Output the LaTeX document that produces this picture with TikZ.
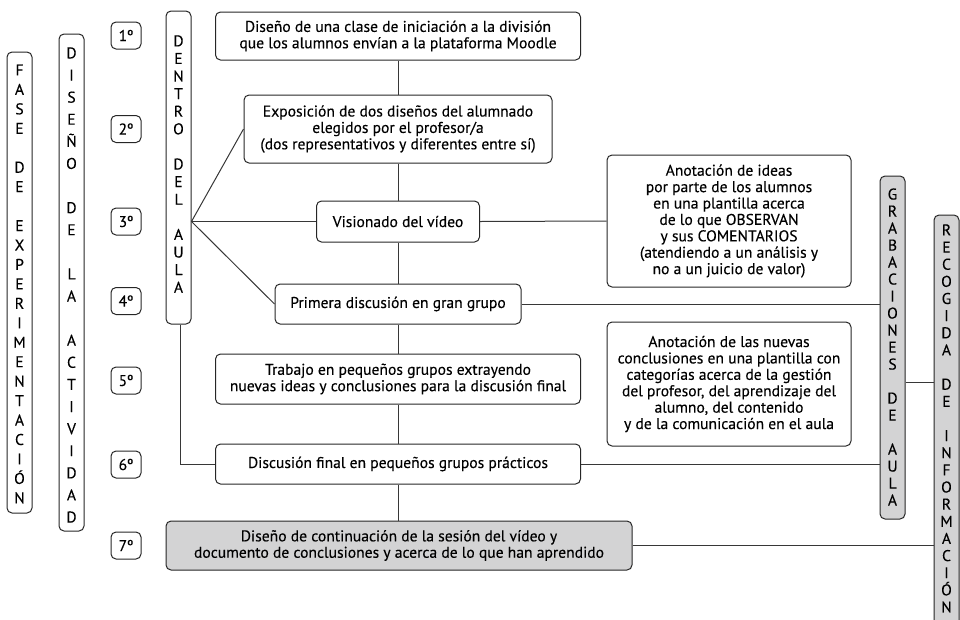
\documentclass[tikz,border=0pt]{standalone}
\usepackage{fontspec}
\setmainfont{PT Sans}[BoldFont={PT Sans}, BoldFeatures={FakeBold=0.25}]
\definecolor{boxgray}{RGB}{211,211,212}
\definecolor{linegray}{RGB}{55,55,55}
\begin{document}
\begin{tikzpicture}[x=1pt,y=-1pt,
  box/.style={draw=black!85, line width=1pt, rounded corners=5pt, inner sep=0pt, align=center, font=\fontsize{15.6}{16.4}\selectfont\bfseries},
  col/.style={draw=black!85, line width=1pt, rounded corners=5pt, inner sep=0pt, minimum width=25pt},
  num/.style={box, minimum width=30pt, minimum height=27pt},
  vlabel/.style={align=center, inner sep=0pt},
  link/.style={draw=linegray, line width=1pt},
]
\useasboundingbox (0,0) rectangle (960,619);
\clip (0,0) rectangle (960,619);

% side columns
\node[col, minimum height=461pt] (fase) at (19.5,282.5) {};
\node[vlabel, font=\fontsize{15.6}{19.45}\selectfont\bfseries] (faset) at (19.5,284) {F\\A\\S\\E\\[19.45pt]D\\E\\[19.45pt]E\\X\\P\\E\\R\\I\\M\\E\\N\\T\\A\\C\\I\\Ó\\N};
\node[col, minimum height=497pt] (dis) at (71.5,282.5) {};
\node[vlabel, font=\fontsize{15.6}{22.1}\selectfont\bfseries] (dist) at (71.5,285) {D\\I\\S\\E\\Ñ\\O\\[22.1pt]D\\E\\[22.1pt]L\\A\\[22.1pt]A\\C\\T\\I\\V\\I\\D\\A\\D};
\node[col, minimum height=313pt] (dentro) at (178.5,167.5) {};
\node[vlabel, font=\fontsize{15.6}{17.6}\selectfont\bfseries] (dentrot) at (178.5,164) {D\\E\\N\\T\\R\\O\\[17.6pt]D\\E\\L\\[17.6pt]A\\U\\L\\A};
\node[col, fill=boxgray, minimum height=343pt] (grab) at (892.5,347.5) {};
\node[vlabel, font=\fontsize{15.6}{17}\selectfont\bfseries] (grabt) at (892.5,347) {G\\R\\A\\B\\A\\C\\I\\O\\N\\E\\S\\[17pt]D\\E\\[17pt]A\\U\\L\\A};
\node[col, fill=boxgray, minimum height=430pt] (recog) at (946.5,430) {};
\node[vlabel, font=\fontsize{15.6}{17.14}\selectfont\bfseries] (recogt) at (946.5,418.5) {R\\E\\C\\O\\G\\I\\D\\A\\[17.14pt]D\\E\\[17.14pt]I\\N\\F\\O\\R\\M\\A\\C\\I\\Ó\\N};

% step numbers
\node[num] (n1) at (126,35.5) {1º};
\node[num] (n2) at (126,129) {2º};
\node[num] (n3) at (126,221.5) {3º};
\node[num] (n4) at (126,301) {4º};
\node[num] (n5) at (126,380.5) {5º};
\node[num] (n6) at (126,464.5) {6º};
\node[num] (n7) at (126,545.5) {7º};

% main boxes
\node[box, minimum width=365pt, minimum height=48pt] (b1) at (398,36) {Diseño de una clase de iniciación a la división\\que los alumnos envían a la plataforma Moodle};
\node[box, minimum width=308pt, minimum height=68pt] (b2) at (398,129) {Exposición de dos diseños del alumnado\\elegidos por el profesor/a\\(dos representativos y diferentes entre sí)};
\node[box, minimum width=163pt, minimum height=41pt] (b3) at (398,221.5) {Visionado del vídeo};
\node[box, minimum width=246pt, minimum height=40pt] (b4) at (398,304) {Primera discusión en gran grupo};
\node[box, minimum width=365pt, minimum height=50pt] (b5) at (398,379) {Trabajo en pequeños grupos extrayendo\\nuevas ideas y conclusiones para la discusión final};
\node[box, minimum width=365pt, minimum height=40pt] (b6) at (398,464) {Discusión final en pequeños grupos prácticos};
\node[box, fill=boxgray, minimum width=466pt, minimum height=49pt] (b7) at (399,545.5) {Diseño de continuación de la sesión del vídeo y\\documento de conclusiones y acerca de lo que han aprendido};
\node[box, minimum width=244pt, minimum height=132pt] (a1) at (729,221) {Anotación de ideas\\por parte de los alumnos\\en una plantilla acerca\\de lo que OBSERVAN\\y sus COMENTARIOS\\(atendiendo a un análisis y\\no a un juicio de valor)};
\node[box, minimum width=244pt, minimum height=124pt] (a2) at (729,384) {Anotación de las nuevas\\conclusiones en una plantilla con\\categorías acerca de la gestión\\del profesor, del aprendizaje del\\alumno, del contenido\\y de la comunicación en el aula};

% connectors
\draw[link] (b1) -- (b2);
\draw[link] (b2) -- (b3);
\draw[link] (b3) -- (b4);
\draw[link] (b4) -- (b5);
\draw[link] (b5) -- (b6);
\draw[link] (b6.south) -- (b6.south |- b7.north);
\draw[link] (b2.west) -- (dentro.east |- b3.west) -- (b4.west);
\draw[link] (dentro.east |- b3.west) -- (b3.west);
\draw[link] ([xshift=1.5pt]dentro.south) |- (b6.west);
\draw[link] (b3.east) -- (a1.west);
\draw[link] (b4.east) -- (grab.west |- b4.east);
\draw[link] (b6.east) -- (grab.west |- b6.east);
\draw[link] (grab.east |- 0,382) -- (recog.west |- 0,382);
\draw[link] (b7.east) -- (recog.west |- b7.east);
\end{tikzpicture}
\end{document}
